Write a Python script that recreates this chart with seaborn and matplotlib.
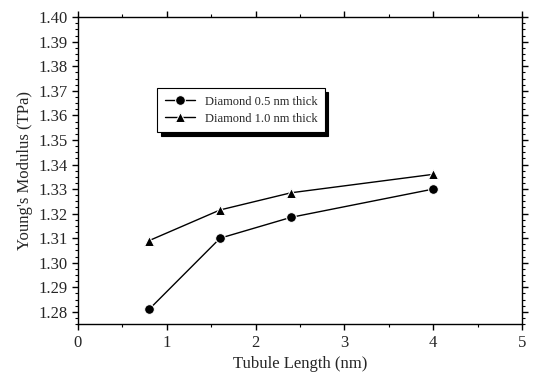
import numpy as np
import pandas as pd
import seaborn as sns
import matplotlib.pyplot as plt
from matplotlib.ticker import MultipleLocator

# Data
length = [0.8, 1.6, 2.4, 4.0]
modulus_05 = [1.281, 1.310, 1.3185, 1.330]
modulus_10 = [1.309, 1.3215, 1.3285, 1.336]
labels = ["Diamond 0.5 nm thick", "Diamond 1.0 nm thick"]

df = pd.DataFrame({
    "Length": length * 2,
    "Modulus": modulus_05 + modulus_10,
    "Series": [labels[0]] * 4 + [labels[1]] * 4,
})

sns.set_theme(style="ticks")
plt.rcParams["font.family"] = ["Liberation Serif", "DejaVu Serif"]

fig = plt.figure(figsize=(5.36, 3.73), dpi=100)
ax = fig.add_axes([0.1455, 0.131, 0.8285, 0.823])

sns.lineplot(
    data=df, x="Length", y="Modulus", hue="Series", style="Series",
    markers={labels[0]: "o", labels[1]: "^"}, dashes=False,
    palette=["black", "black"], linewidth=1, markersize=7,
    ax=ax,
)

ax.set_xlim(0, 5)
ax.set_ylim(1.275, 1.40)
ax.xaxis.set_major_locator(MultipleLocator(1))
ax.xaxis.set_minor_locator(MultipleLocator(0.5))
ax.yaxis.set_major_locator(MultipleLocator(0.01))
ax.yaxis.set_minor_locator(MultipleLocator(0.0025))
ax.yaxis.set_major_formatter(plt.FormatStrFormatter("%.2f"))
ax.tick_params(which="both", direction="out", top=True, right=True, labelsize=12, color="black")
ax.tick_params(which="major", length=4, width=1)
ax.tick_params(which="minor", length=2, width=0.8)
for s in ax.spines.values():
    s.set_color("black")
    s.set_linewidth(1)

ax.set_xlabel("Tubule Length (nm)", fontsize=12)
ax.set_ylabel("Young's Modulus (TPa)", fontsize=12)

leg = ax.legend(
    loc="upper left", bbox_to_anchor=(0.293, 0.764), bbox_transform=fig.transFigure,
    borderaxespad=0, fontsize=9, frameon=True, fancybox=False,
    shadow={"color": "black", "alpha": 1, "ox": 2.5, "oy": -2.5},
    edgecolor="black", handlelength=2.4, borderpad=0.6, labelspacing=0.4, title=None,
)
leg.get_frame().set_linewidth(0.8)

fig.savefig("out.png", dpi=100)
